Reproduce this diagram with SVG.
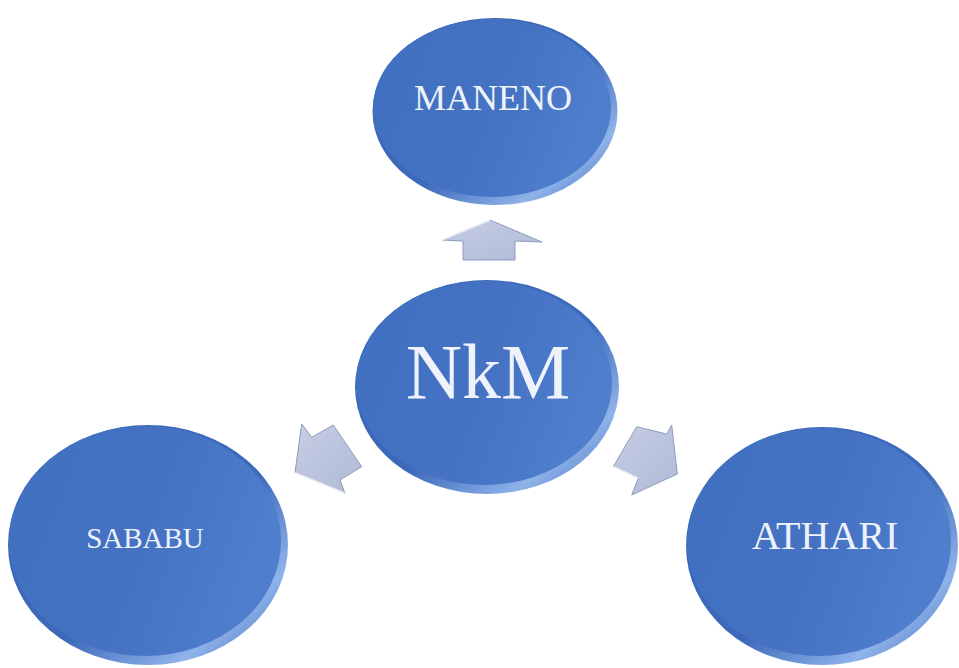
<svg xmlns="http://www.w3.org/2000/svg" width="959" height="668" viewBox="0 0 959 668">
<defs>
<linearGradient id="face" x1="0" y1="0" x2="1" y2="0.3">
<stop offset="0" stop-color="#4170c0"/>
<stop offset="0.6" stop-color="#4572c3"/>
<stop offset="1" stop-color="#4f7ecd"/>
</linearGradient>
<linearGradient id="rim" x1="0" y1="0" x2="1" y2="1">
<stop offset="0" stop-color="#3b66b6"/>
<stop offset="0.55" stop-color="#3d69ba"/>
<stop offset="0.8" stop-color="#8fb3ea"/>
<stop offset="1" stop-color="#3563b3"/>
</linearGradient>
<linearGradient id="arw" x1="0" y1="0" x2="1" y2="1">
<stop offset="0" stop-color="#c6cee4"/>
<stop offset="1" stop-color="#b0bad7"/>
</linearGradient>
</defs>
<style>
.rim{fill:url(#rim)}
.face{fill:url(#face)}
.lbl{font-family:"Liberation Serif","Times New Roman",serif;fill:#eef2fa;text-anchor:middle}
.arrow{fill:url(#arw);stroke:#8e9bbd;stroke-width:1;stroke-linejoin:miter}
.arrowhl{fill:none;stroke:#ffffff;stroke-width:1.5;opacity:0.8}
</style>
<rect width="959" height="668" fill="#ffffff"/>

<g id="connectors">
<g id="arrow-up">
<polygon class="arrow" points="490,220 542,242 515,241 515,260 463,260 463,241 442,240"/>
<polyline class="arrowhl" points="442,240 490,220"/>
</g>
<g id="arrow-left">
<polygon class="arrow" points="301.7,424 311.7,437.3 333.3,425 361.7,466.7 340,480 345,493.3 295,472.7"/>
<polyline class="arrowhl" points="295,472.7 345,493.3"/>
</g>
<g id="arrow-right">
<polygon class="arrow" points="636.7,426.7 666.7,434 671.7,425 677.3,474 631.7,495 638.3,478.3 613.3,466.7"/>
<polyline class="arrowhl" points="613.3,466.7 638.3,478.3"/>
</g>
</g>

<g id="node-maneno">
<ellipse class="rim" cx="495" cy="111.5" rx="122.5" ry="93.5"/>
<ellipse class="face" cx="492" cy="108" rx="119" ry="89"/>
<text class="lbl" x="493" y="110" font-size="36">MANENO</text>
</g>

<g id="node-nkm">
<ellipse class="rim" cx="487" cy="387" rx="132" ry="107"/>
<ellipse class="face" cx="484" cy="383" rx="128" ry="102"/>
<text class="lbl" x="488" y="398" font-size="78">NkM</text>
</g>

<g id="node-sababu">
<ellipse class="rim" cx="148" cy="545" rx="140" ry="120"/>
<ellipse class="face" cx="145" cy="541" rx="136" ry="115"/>
<text class="lbl" x="145" y="548" font-size="29">SABABU</text>
</g>

<g id="node-athari">
<ellipse class="rim" cx="822" cy="546" rx="136" ry="119"/>
<ellipse class="face" cx="819" cy="542" rx="132" ry="114"/>
<text class="lbl" x="825" y="549" font-size="40">ATHARI</text>
</g>
</svg>
